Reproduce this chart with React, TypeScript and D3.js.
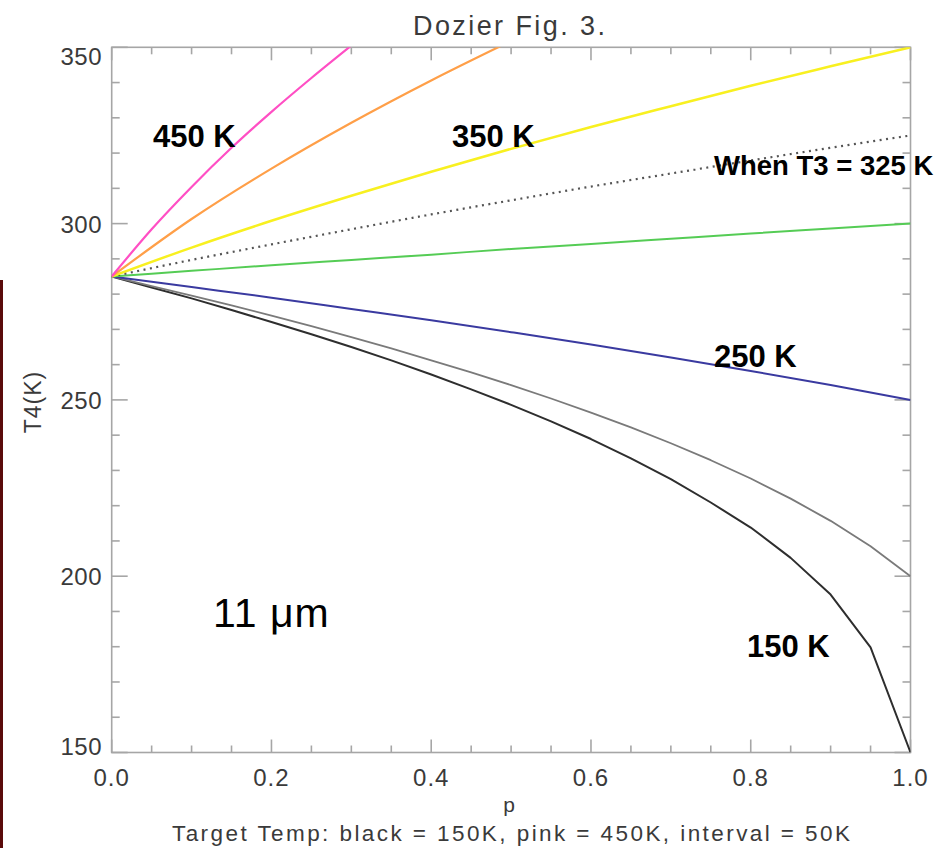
import React from "react";
import * as d3 from "d3";

// fractional area p
const pFine = [0, 0.05, 0.1, 0.15, 0.2, 0.25, 0.3, 0.35, 0.4, 0.45, 0.5, 0.55, 0.6, 0.65, 0.7, 0.75, 0.8, 0.85, 0.9, 0.95, 1.0];
const pCoarse = [0, 0.1, 0.2, 0.3, 0.4, 0.5, 0.6, 0.7, 0.8, 0.9, 1.0];
const pPink = [0, 0.05, 0.1, 0.15, 0.2, 0.25, 0.3];
const pOrange = [0, 0.1, 0.2, 0.3, 0.4, 0.5];

// T4 (K) per target temperature
const t150 = [285.0, 281.9, 278.8, 275.5, 272.1, 268.6, 265.0, 261.2, 257.2, 253.0, 248.6, 243.9, 238.9, 233.4, 227.5, 220.9, 213.8, 205.2, 194.8, 179.8, 150.0];
const t200 = [285.0, 282.3, 279.6, 276.8, 273.9, 270.9, 267.8, 264.6, 261.2, 257.8, 254.2, 250.4, 246.4, 242.2, 237.7, 232.9, 227.7, 222.0, 215.7, 208.5, 200.0];
const t250 = [285.0, 282.0, 279.0, 275.8, 272.6, 269.2, 265.7, 262.0, 258.2, 254.2, 250.0];
const t300 = [285.0, 286.6, 288.2, 289.7, 291.2, 292.8, 294.2, 295.7, 297.2, 298.6, 300.0];
const t325 = [285.0, 289.7, 294.1, 298.4, 302.6, 306.6, 310.5, 314.2, 317.9, 321.5, 325.0];
const t350 = [285.0, 293.2, 300.8, 307.9, 314.7, 321.2, 327.4, 333.3, 339.1, 344.6, 350.0];
const t400 = [285.0, 301.3, 315.6, 328.6, 340.6, 351.8];
const t450 = [285.0, 298.4, 310.4, 321.5, 331.7, 341.3, 350.5];

const xTickValues = [0, 0.2, 0.4, 0.6, 0.8, 1.0];
const xTickLabels = ["0.0", "0.2", "0.4", "0.6", "0.8", "1.0"];
const yTickValues = [150, 200, 250, 300, 350];
const yTickLabels = ["150", "200", "250", "300", "350"];

const seriesList = [
  { p: pFine, t: t150, color: "#2e2e2e", width: 2, dash: "", smooth: false },
  { p: pFine, t: t200, color: "#7a7a7a", width: 1.8, dash: "", smooth: false },
  { p: pCoarse, t: t250, color: "#3a3aa0", width: 2, dash: "", smooth: true },
  { p: pCoarse, t: t300, color: "#55cc55", width: 2, dash: "", smooth: true },
  { p: pCoarse, t: t325, color: "#555555", width: 2.2, dash: "2,4.5", smooth: true },
  { p: pCoarse, t: t350, color: "#f8f020", width: 2.5, dash: "", smooth: true },
  { p: pOrange, t: t400, color: "#ff9f48", width: 2.2, dash: "", smooth: true },
  { p: pPink, t: t450, color: "#ff4fc4", width: 2.2, dash: "", smooth: true },
];

const annotations = [
  { text: "450 K", x: 153, y: 147, size: 31 },
  { text: "350 K", x: 452, y: 147, size: 31 },
  { text: "When T3 = 325 K", x: 714, y: 175, size: 27.5 },
  { text: "250 K", x: 714, y: 367, size: 31 },
  { text: "150 K", x: 747, y: 657, size: 31 },
];

export default function App() {
  const W = 943;
  const H = 848;
  const left = 111.7, right = 910.5, top = 47.3, bottom = 752.5;
  const x = d3.scaleLinear().domain([0, 1]).range([left, right]);
  const y = d3.scaleLinear().domain([150, 350]).range([bottom, top]);

  const mkLine = (p: number[], t: number[], smooth: boolean) =>
    d3
      .line<number>()
      .x((_, i) => x(p[i]))
      .y((d) => y(d))
      .curve(smooth ? d3.curveMonotoneX : d3.curveLinear)(t) || "";

  const xMinor = x.ticks(20);
  const yMinor = y.ticks(20);
  const axisColor = "#a6a6a6";
  const labelFont = "'Liberation Sans', Arial, sans-serif";
  const tickFill = "#3a3a3a";

  const yLabelBaseline = (v: number, i: number) => {
    if (i === yTickValues.length - 1) return y(v) + 18;
    if (i === 0) return y(v) + 2.5;
    return y(v) + 9;
  };

  return (
    <svg width={W} height={H} style={{ position: "absolute", left: 0, top: 0, background: "#fff" }}>
      <defs>
        <clipPath id="plotClip">
          <rect x={left} y={top} width={right - left} height={bottom - top} />
        </clipPath>
      </defs>
      <rect x={0} y={0} width={W} height={H} fill="#ffffff" />
      {/* dark edge at the left */}
      <rect x={0} y={280} width={3} height={H - 280} fill="#5a0a0a" />

      {/* frame */}
      <rect x={left} y={top} width={right - left} height={bottom - top} fill="none" stroke={axisColor} strokeWidth={1.6} />

      {/* x ticks (bottom & top) */}
      {xMinor.map((v, i) => {
        const major = xTickValues.some((m) => Math.abs(m - v) < 1e-9);
        const len = major ? 13 : 7;
        return (
          <g key={"xt" + i} stroke={axisColor} strokeWidth={1.6}>
            <line x1={x(v)} x2={x(v)} y1={bottom} y2={bottom - len} />
            <line x1={x(v)} x2={x(v)} y1={top} y2={top + len} />
          </g>
        );
      })}
      {/* y ticks (left & right) */}
      {yMinor.map((v, i) => {
        const major = yTickValues.some((m) => Math.abs(m - v) < 1e-9);
        const len = major ? 16 : 8;
        return (
          <g key={"yt" + i} stroke={axisColor} strokeWidth={1.6}>
            <line x1={left} x2={left + len} y1={y(v)} y2={y(v)} />
            <line x1={right} x2={right - len} y1={y(v)} y2={y(v)} />
          </g>
        );
      })}

      {/* tick labels */}
      {xTickValues.map((v, i) => (
        <text key={"xl" + i} x={x(v)} y={786} textAnchor="middle" fontFamily={labelFont} fontSize={24} fill={tickFill} letterSpacing={1}>
          {xTickLabels[i]}
        </text>
      ))}
      {yTickValues.map((v, i) => (
        <text key={"yl" + i} x={102} y={yLabelBaseline(v, i)} textAnchor="end" fontFamily={labelFont} fontSize={24} fill={tickFill} letterSpacing={0.5}>
          {yTickLabels[i]}
        </text>
      ))}

      {/* axis titles */}
      <text x={509} y={35} textAnchor="middle" fontFamily={labelFont} fontSize={27} fill={tickFill} textLength={192} lengthAdjust="spacing">
        Dozier Fig. 3.
      </text>
      <text transform="translate(41,402) rotate(-90)" textAnchor="middle" fontFamily={labelFont} fontSize={23} fill={tickFill} letterSpacing={1}>
        T4(K)
      </text>
      <text x={509} y={812} textAnchor="middle" fontFamily={labelFont} fontSize={21} fill={tickFill}>
        p
      </text>
      <text x={172} y={841} fontFamily={labelFont} fontSize={22.5} fill={tickFill} textLength={678} lengthAdjust="spacing">
        Target Temp: black = 150K, pink = 450K, interval = 50K
      </text>

      {/* curves */}
      <g clipPath="url(#plotClip)" fill="none">
        {seriesList.map((s, i) => (
          <path key={"s" + i} d={mkLine(s.p, s.t, s.smooth)} stroke={s.color} strokeWidth={s.width} strokeDasharray={s.dash || undefined} strokeLinejoin="round" />
        ))}
      </g>

      {/* annotations */}
      {annotations.map((a, i) => (
        <text key={"a" + i} x={a.x} y={a.y} fontFamily={labelFont} fontWeight="bold" fontSize={a.size} fill="#000">
          {a.text}
        </text>
      ))}
      <text x={213} y={627} fontFamily={labelFont} fontSize={41} fill="#000" letterSpacing={1}>
        11 μm
      </text>
    </svg>
  );
}
